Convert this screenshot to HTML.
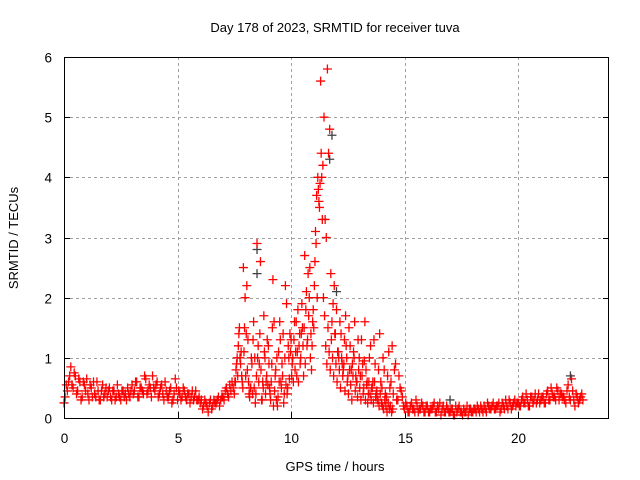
<!DOCTYPE html>
<html><head><meta charset="utf-8"><style>
html,body{margin:0;padding:0;background:#fff}
svg{display:block;font-family:"Liberation Sans",sans-serif}
</style></head><body>
<svg id="chart" width="640" height="480" viewBox="0 0 640 480" xmlns="http://www.w3.org/2000/svg">
<rect width="640" height="480" fill="#fff"/>
<text x="335" y="32" font-size="13" text-anchor="middle">Day 178 of 2023, SRMTID for receiver tuva</text>
<g id="grid"></g>
<g id="ticks"></g>
<g id="pts"></g>
<rect x="64.5" y="57.5" width="544" height="361" fill="none" stroke="#000" stroke-width="1"/>
<text x="335" y="471" font-size="13" text-anchor="middle">GPS time / hours</text>
<text transform="translate(18,238) rotate(-90)" font-size="13" text-anchor="middle">SRMTID / TECUs</text>
</svg>
<script>
const xTicks=[0,5,10,15,20];
const yTicks=[0,1,2,3,4,5,6];
const seriesA=[0.25,0.55,0.6,0.85,0.5,0.7,0.45,0.6,0.35,0.55,
0.65,0.3,0.5,0.6,0.35,0.45,0.3,0.55,0.4,0.35,
0.5,0.3,0.45,0.35,0.4,0.3,0.45,0.4,0.5,0.35,
0.55,0.45,0.6,0.35,0.5,0.4,0.65,0.45,0.5,0.7,
0.45,0.6,0.4,0.55,0.3,0.45,0.35,0.5,0.3,0.65,
0.3,0.4,0.35,0.45,0.3,0.4,0.35,0.3,0.45,0.3,
0.25,0.15,0.3,0.2,0.25,0.15,0.3,0.25,0.35,0.3,
0.35,0.45,0.4,0.55,0.6,0.4,0.9,1.4,1.1,2.5,
0.7,1.3,0.5,0.4,1.0,2.9,0.9,0.3,1.7,0.6,
1.2,0.3,2.3,0.7,0.2,1.6,0.9,0.4,1.9,1.0,
1.3,0.6,1.1,1.8,0.9,1.5,2.7,1.2,2.0,0.8,
1.5,2.9,3.8,5.6,4.2,3.3,5.8,4.8,1.6,2.2,
1.8,1.0,1.4,0.8,1.7,0.7,1.2,0.9,1.6,0.6,
1.0,1.3,0.5,0.8,0.4,1.2,0.6,0.9,0.3,1.4,
0.5,0.8,0.35,1.1,0.6,0.4,0.9,0.3,0.5,0.35,
0.15,0.2,0.1,0.25,0.15,0.3,0.1,0.15,0.2,0.1,
0.2,0.1,0.15,0.25,0.1,0.15,0.05,0.2,0.1,0.15,
0.1,0.15,0.05,0.1,0.2,0.1,0.15,0.1,0.05,0.15,
0.1,0.15,0.2,0.1,0.15,0.2,0.1,0.2,0.15,0.25,
0.15,0.2,0.1,0.25,0.15,0.2,0.3,0.15,0.25,0.2,
0.25,0.2,0.35,0.25,0.3,0.2,0.35,0.3,0.25,0.4,
0.3,0.35,0.25,0.45,0.3,0.4,0.35,0.5,0.3,0.4,
0.35,0.25,0.55,0.3,0.45,0.2,0.35,0.3,0.4];
const seriesB=[0.35,0.45,0.7,0.55,0.75,0.4,0.65,0.3,0.6,0.45,
0.4,0.55,0.35,0.4,0.6,0.3,0.45,0.35,0.5,0.45,
0.35,0.45,0.3,0.55,0.35,0.45,0.35,0.3,0.4,0.45,
0.4,0.6,0.35,0.5,0.45,0.7,0.4,0.55,0.35,0.5,
0.55,0.35,0.5,0.4,0.6,0.35,0.45,0.25,0.4,0.5,
0.45,0.3,0.5,0.35,0.4,0.25,0.45,0.35,0.3,0.35,
0.3,0.2,0.25,0.1,0.3,0.2,0.25,0.3,0.2,0.35,
0.3,0.5,0.35,0.45,0.5,0.6,0.7,1.0,0.6,1.5,
2.2,0.4,1.0,1.6,0.4,1.2,2.6,0.6,1.0,1.3,
0.5,0.9,1.6,0.3,1.1,0.6,1.4,2.2,0.5,1.4,
0.9,1.6,0.7,1.2,1.4,0.7,1.8,2.4,1.0,1.6,
2.6,2.0,3.5,4.0,5.0,3.0,4.4,2.4,1.9,1.4,
1.1,1.6,0.9,1.3,1.0,1.5,0.8,1.1,0.7,1.3,
0.7,0.9,1.6,0.6,1.0,0.5,1.3,0.4,0.8,0.6,
1.0,0.4,0.7,0.5,1.2,0.8,0.3,0.7,0.45,0.2,
0.25,0.1,0.2,0.15,0.1,0.2,0.15,0.25,0.1,0.2,
0.1,0.15,0.2,0.1,0.2,0.25,0.15,0.1,0.2,0.1,
0.15,0.05,0.2,0.15,0.1,0.05,0.1,0.2,0.15,0.1,
0.15,0.1,0.15,0.2,0.1,0.15,0.25,0.15,0.2,0.15,
0.2,0.25,0.15,0.2,0.3,0.15,0.25,0.2,0.3,0.25,
0.2,0.3,0.25,0.4,0.2,0.35,0.25,0.4,0.3,0.25,
0.35,0.25,0.4,0.3,0.5,0.35,0.3,0.45,0.4,0.35,
0.3,0.45,0.35,0.65,0.3,0.4,0.25,0.35,0.3];
// denser cloud in the active period, starting at 7.5 h, 0.05 h step
const seriesCStart=7.5;
const seriesC=[0.6,0.8,1.0,1.2,1.5,0.9,0.7,0.5,1.1,2.0,
1.4,0.8,0.6,0.35,0.5,0.9,1.3,0.5,0.25,0.7,
1.0,0.6,1.4,0.8,0.3,0.5,1.1,0.4,0.7,0.55,
0.9,0.4,0.6,1.5,0.2,0.45,0.8,1.0,0.35,0.6,
1.3,0.5,0.7,0.25,1.0,0.55,0.4,1.2,0.65,1.1,
0.7,1.0,1.3,0.8,1.6,1.1,0.6,1.4,1.0,1.9,
1.2,1.5,0.9,2.1,1.3,1.7,2.5,1.4,1.2,1.8,
2.2,3.1,3.7,4.0,3.6,3.9,4.4,3.3,2.0,1.7,
1.2,0.9,1.5,1.1,0.8,1.3,1.0,0.7,1.4,0.9,
0.6,1.1,0.8,0.5,1.0,0.7,0.9,0.45,1.2,0.6,
0.4,0.8,0.55,0.3,0.7,1.0,0.45,0.6,0.35,0.8,
0.5,0.3,0.7,0.4,0.95,0.3,0.55,0.25,0.6,0.4,
0.3,0.5,0.25,0.6,0.35,0.45,0.3,0.2,0.4,0.25,
0.2,0.15,0.3,0.2,0.1,0.25,0.15,0.2,0.1,0.15];
const grayTimes=[8.5,8.5,11.7,11.8,12.0,17.0,22.3];
const grayValues=[2.8,2.4,4.3,4.7,2.1,0.3,0.7];
const NS="http://www.w3.org/2000/svg";
const X0=64,X1=609,Y0=418,Y1=57,XMAX=24,YMAX=6;
function sx(t){return X0+t/XMAX*(X1-X0);}
function sy(v){return Y0-v/YMAX*(Y0-Y1);}
function mk(tag,attrs,parent){const e=document.createElementNS(NS,tag);for(const k in attrs)e.setAttribute(k,attrs[k]);parent.appendChild(e);return e;}
const grid=document.getElementById('grid'),ticks=document.getElementById('ticks'),pts=document.getElementById('pts');
yTicks.forEach(v=>{
  const y=Math.round(sy(v))+0.5;
  if(v>0&&v<YMAX){const g=mk('line',{x1:X0,x2:X1,y1:y,y2:y,stroke:'#a0a0a0','stroke-dasharray':'3,3'},grid);
  
  }
  const t=mk('line',{x1:X0,x2:X0+6,y1:y,y2:y,stroke:'#000'},ticks);
  
  
  const t2=mk('line',{x1:X1-6,x2:X1,y1:y,y2:y,stroke:'#000'},ticks);
  
  
  const l=mk('text',{x:X0-12,y:y+5,'font-size':13.5,'text-anchor':'end'},ticks);l.textContent=v;
  
  
});
xTicks.forEach(v=>{
  const x=Math.round(sx(v))+0.5;
  if(v>0){const g=mk('line',{x1:x,x2:x,y1:Y1,y2:Y0,stroke:'#a0a0a0','stroke-dasharray':'3,3'},grid);
  
  }
  const t=mk('line',{x1:x,x2:x,y1:Y0-6,y2:Y0,stroke:'#000'},ticks);
  
  
  const l=mk('text',{x:x,y:Y0+25,'font-size':13.5,'text-anchor':'middle'},ticks);l.textContent=v;
  
  
});
function plus(t,v,color,name){
  const x=sx(t),y=sy(v);
  const p=mk('path',{d:`M${x-4.5},${y}H${x+4.5}M${x},${y-4.5}V${y+4.5}`,stroke:color,'stroke-width':1.3,fill:'none'},pts);
  
  
}
grayTimes.forEach((t,i)=>plus(t,grayValues[i],'#404040','gray-point'));
seriesA.forEach((v,i)=>plus(i*0.1,v,'#ff0000','srmtid-point'));
seriesB.forEach((v,i)=>plus(i*0.1+0.05,v,'#ff0000','srmtid-point'));
seriesC.forEach((v,i)=>plus(seriesCStart+i*0.05+0.025,v,'#ff0000','srmtid-point'));
</script>
</body></html>
